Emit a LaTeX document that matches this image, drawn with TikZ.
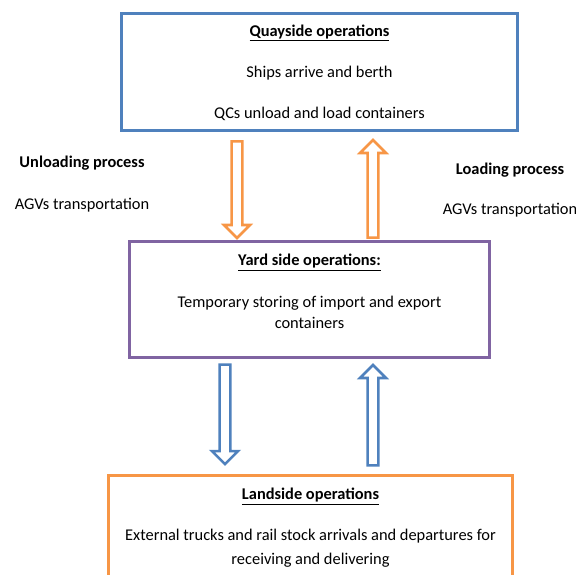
\documentclass[tikz,border=0pt]{standalone}
\usepackage{fontspec}
\setmainfont{Carlito}
\usetikzlibrary{calc}
\definecolor{quayblue}{HTML}{4F81BD}
\definecolor{yardpurple}{HTML}{8064A2}
\definecolor{landorange}{HTML}{F79646}
% block arrow from #1 to #2 in colour #3
\newcommand{\hollowarrow}[3]{%
  \coordinate (hb) at ($(#2)!9.75pt!(#1)$);
  \draw[hollow, draw=#3] ($(#1)!4.1pt!90:(#2)$) -- ($(hb)!4.1pt!90:(#2)$)
    -- ($(hb)!9.75pt!90:(#2)$) -- (#2) -- ($(hb)!9.75pt!-90:(#2)$)
    -- ($(hb)!4.1pt!-90:(#2)$) -- ($(#1)!4.1pt!-90:(#2)$) -- cycle;
}
\begin{document}
\begin{tikzpicture}[x=0.75pt, y=-0.75pt,
    opbox/.style={draw, line width=1.9pt, inner sep=0pt},
    head/.style={font=\fontsize{12.3}{14}\selectfont\bfseries, anchor=base, inner sep=0pt},
    txt/.style={font=\fontsize{12.3}{14}\selectfont, anchor=base, inner sep=0pt},
    hollow/.style={line width=1.9pt, fill=white}]
    \useasboundingbox (0,0) rectangle (576,575);

    % the three areas
    \node[opbox, draw=quayblue, minimum width=297pt, minimum height=87.75pt] (quay) at (319.5,72) {};
    \node[opbox, draw=yardpurple, minimum width=270pt, minimum height=87pt] (yard) at (309.5,299.5) {};
    \node[opbox, draw=landorange, minimum width=303pt, minimum height=108.4pt] (land) at (310.5,547.75) {};

    \node[head] (quaytitle) at ($(quay.north)+(0,24)$) {\underline{Quayside operations}};
    \node[txt] (quayline1) at ($(quay.north)+(0,65.5)$) {Ships arrive and berth};
    \node[txt] (quayline2) at ($(quay.north)+(0,106.5)$) {QCs unload and load containers};

    \node[head] (yardtitle) at ($(yard.north)+(0,25.2)$) {\underline{Yard side operations:}};
    \node[txt] (yardline1) at ($(yard.north)+(0,66.8)$) {Temporary storing of import and export};
    \node[txt] (yardline2) at ($(yard.north)+(0,88.5)$) {containers};

    \node[head] (landtitle) at ($(land.north)+(0,25.5)$) {\underline{Landside operations}};
    \node[txt] (landline1) at ($(land.north)+(0,66.5)$) {External trucks and rail stock arrivals and departures for};
    \node[txt] (landline2) at ($(land.north)+(0,90)$) {receiving and delivering};

    % side labels
    \node[head] (unloadlabel) at (82,167) {Unloading process};
    \node[txt] (unloadagv) at (82,209.5) {AGVs transportation};
    \node[head] (loadlabel) at (510,174) {Loading process};
    \node[txt] (loadagv) at (510,214.5) {AGVs transportation};

    % arrow ends
    \coordinate (unloadtop) at (237,141.3);
    \coordinate (unloadtip) at (237,238);
    \coordinate (loadbottom) at (373,237.7);
    \coordinate (loadtip) at (373,140);
    \coordinate (deliverytop) at (225,364.6);
    \coordinate (deliverytip) at (225,464.2);
    \coordinate (receivebottom) at (373,465.4);
    \coordinate (receivetip) at (373,365);

    \hollowarrow{unloadtop}{unloadtip}{landorange}
    \hollowarrow{loadbottom}{loadtip}{landorange}
    \hollowarrow{deliverytop}{deliverytip}{quayblue}
    \hollowarrow{receivebottom}{receivetip}{quayblue}
\end{tikzpicture}
\end{document}
